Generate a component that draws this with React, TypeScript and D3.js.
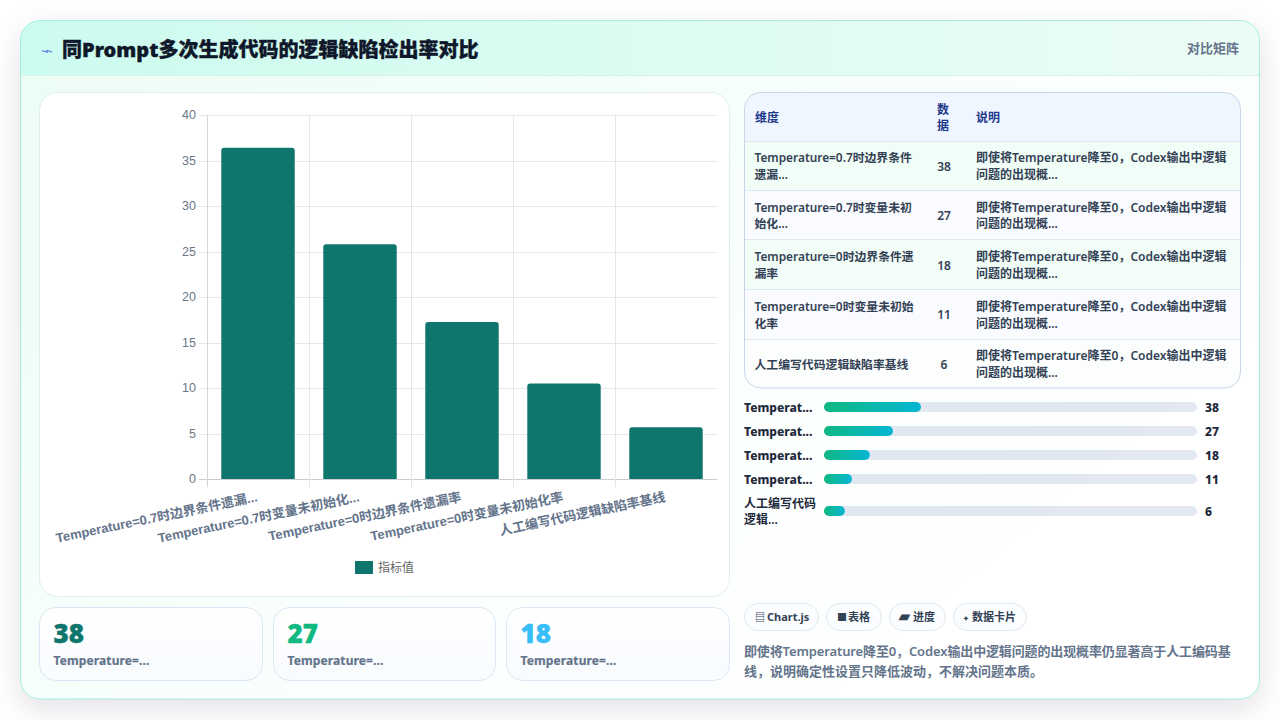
import { useEffect, useRef } from 'react'
import * as d3 from 'd3'

const categories = ['Temperature=0.7时边界条件遗漏...', 'Temperature=0.7时变量未初始化...', 'Temperature=0时边界条件遗漏率', 'Temperature=0时变量未初始化率', '人工编写代码逻辑缺陷率基线']
const barValues = [36.4, 25.8, 17.25, 10.5, 5.7]
const yTicks = [0, 5, 10, 15, 20, 25, 30, 35, 40]

const rowLabels = [['Temperature=0.7时边界条件', '遗漏...'], ['Temperature=0.7时变量未初', '始化...'], ['Temperature=0时边界条件遗', '漏率'], ['Temperature=0时变量未初始', '化率'], ['人工编写代码逻辑缺陷率基线']]
const rowValues = [38, 27, 18, 11, 6]
const rowNote = ['即使将Temperature降至0，Codex输出中逻辑', '问题的出现概...']

const progressLabels = [['Temperat...'], ['Temperat...'], ['Temperat...'], ['Temperat...'], ['人工编写代码', '逻辑...']]
const progressFill = [26, 18.5, 12.3, 7.5, 5.6]

const cardValues = ['38', '27', '18']
const cardColors = ['#0f766e', '#10b981', '#38bdf8']
const chipIcons = ['▤', '■', '▰', '✦']
const chipLabels = ['Chart.js', '表格', '进度', '数据卡片']
const chipEdges = [[744, 818], [826, 881], [889, 945], [953, 1026]]
const chipIconX = [755, 837, 899, 963]
const chipIconSize = [10, 10, 14, 7]
const chipTextX = [767, 848, 913, 972]
const summary = ['即使将Temperature降至0，Codex输出中逻辑问题的出现概率仍显著高于人工编码基', '线，说明确定性设置只降低波动，不解决问题本质。']

const sans = '"Noto Sans", "Noto Sans CJK SC", sans-serif'
const arial = '"Liberation Sans", "Noto Sans CJK SC", sans-serif'

const left = 207
const right = 717
const top = 115
const bottom = 479

function BarChart() {
  const ref = useRef<SVGGElement | null>(null)

  useEffect(() => {
    if (!ref.current) {return}
    const g = d3.select(ref.current)
    g.selectAll('*').remove()

    const x = d3.scaleBand<string>().domain(categories).range([left, right]).paddingInner(0.28).paddingOuter(0.14)
    const y = d3.scaleLinear().domain([0, 40]).range([bottom, top])

    // grid first, bars sit on top of it
    g.append('g').selectAll('line').data(yTicks).join('line')
      .attr('x1', left - 8).attr('x2', right)
      .attr('y1', (d) => Math.round(y(d)) + 0.5).attr('y2', (d) => Math.round(y(d)) + 0.5)
      .attr('stroke', (d) => (d === 0 ? '#c9ccd1' : '#e3e6ec'))

    const edges = categories.map((c) => (x(c) ?? 0) - x.step() * 0.14)
    g.append('g').selectAll('line').data(edges).join('line')
      .attr('x1', (d) => Math.round(d) + 0.5).attr('x2', (d) => Math.round(d) + 0.5)
      .attr('y1', top).attr('y2', bottom + 8)
      .attr('stroke', (_, i) => (i === 0 ? '#d3d6dc' : '#e3e6ec'))

    g.append('g').selectAll('path').data(categories).join('path')
      .attr('fill', '#0f766e')
      .attr('d', (d, i) => {
        const x0 = x(d) ?? 0
        const x1 = x0 + x.bandwidth()
        const y0 = y(barValues[i])
        const r = 3
        return `M${x0},${bottom}V${y0 + r}Q${x0},${y0} ${x0 + r},${y0}H${x1 - r}Q${x1},${y0} ${x1},${y0 + r}V${bottom}Z`
      })

    const yAxis = d3.axisLeft(y).tickValues(yTicks).tickSize(0).tickPadding(11)
    const ya = g.append('g').attr('transform', `translate(${left},0)`).call(yAxis)
    ya.select('.domain').remove()
    ya.selectAll('text').attr('font-family', arial).attr('font-size', 12.5).attr('fill', '#6b7686').attr('dy', '0.3em')

    g.append('g').selectAll('text').data(categories).join('text')
      .attr('text-anchor', 'end')
      .attr('font-family', arial)
      .attr('font-size', 13)
      .attr('font-weight', 700)
      .attr('fill', '#64748b')
      .attr('transform', (d) => `translate(${(x(d) ?? 0) + x.bandwidth() / 2},${bottom + 22}) rotate(-11.7)`)
      .text((d) => d)
  }, [])

  return <g ref={ref} />
}

export default function App() {
  const track = d3.scaleLinear().domain([0, 100]).range([0, 373])
  const rowY = [141, 190, 239.5, 289.5, 339, 388]
  const progressY = [407, 431, 455, 479, 511]
  const rowFills = ['#f1fdf7', '#f9fbfe', '#f2fdf8', '#f9fbfe', '#fbfefd']

  return (
    <svg width={1280} height={720} viewBox="0 0 1280 720" style={{ position: 'fixed', left: 0, top: 0, background: '#fff' }} fontFamily={sans}>
      <defs>
        <linearGradient id="head" x1="0" x2="1" y1="0" y2="0">
          <stop offset="0" stopColor="#ccfbef" />
          <stop offset="1" stopColor="#ecfdf5" />
        </linearGradient>
        <linearGradient id="body" x1="0" x2="1" y1="0" y2="0.6">
          <stop offset="0" stopColor="#ecfdf5" />
          <stop offset="0.6" stopColor="#fafffd" />
          <stop offset="1" stopColor="#ffffff" />
        </linearGradient>
        <linearGradient id="fill" x1="0" x2="1" y1="0" y2="0">
          <stop offset="0" stopColor="#10b981" />
          <stop offset="1" stopColor="#06b6d4" />
        </linearGradient>
        <linearGradient id="cardBg" x1="0" x2="0" y1="0" y2="1">
          <stop offset="0" stopColor="#ffffff" />
          <stop offset="1" stopColor="#f8fbff" />
        </linearGradient>
        <filter id="shadow" x="-10%" y="-10%" width="120%" height="125%">
          <feDropShadow dx="0" dy="10" stdDeviation="15" floodColor="#0f172a" floodOpacity="0.12" />
        </filter>
        <clipPath id="frame"><rect x={20.5} y={20.5} width={1239} height={678.5} rx={20} /></clipPath>
        <clipPath id="tableClip"><rect x={744.5} y={92.5} width={496} height={295.5} rx={16} /></clipPath>
      </defs>

      <rect x={20.5} y={20.5} width={1239} height={678.5} rx={20} fill="#fff" filter="url(#shadow)" />
      <g clipPath="url(#frame)">
        <rect x={20} y={76} width={1240} height={624} fill="url(#body)" />
        <rect x={20} y={20} width={1240} height={56} fill="url(#head)" />
        <line x1={20} x2={1260} y1={75.5} y2={75.5} stroke="#d5f0ee" />
      </g>
      <rect x={20.5} y={20.5} width={1239} height={678.5} rx={20} fill="none" stroke="#a9eee0" />

      <text transform="translate(41,54.5) scale(1,0.6)" fontSize={20} fill="#4f7fe0">⌁</text>
      <text x={62} y={57} fontSize={20} fontWeight={900} fill="#0f172a" stroke="#0f172a" strokeWidth={0.35}>同Prompt多次生成代码的逻辑缺陷检出率对比</text>
      <text x={1239} y={52.5} fontSize={13} fontWeight={600} textAnchor="end" fill="#64748b">对比矩阵</text>

      <rect x={39.5} y={92.5} width={690} height={504} rx={18} fill="#fff" stroke="#dff0ee" />
      <BarChart />
      <rect x={355} y={561} width={18} height={13} fill="#0f766e" />
      <text x={378} y={571.5} fontFamily={arial} fontSize={12} fill="#666">指标值</text>

      {cardValues.map((v, i) => {
        const xs = [39.5, 273.5, 506.5]
        const ws = [223, 222, 223]
        return (
          <g key={v}>
            <rect x={xs[i]} y={607.5} width={ws[i]} height={73} rx={16} fill="url(#cardBg)" stroke="#dbe7f5" />
            <text x={xs[i] + 14} y={643} fontSize={26} fontWeight={900} fill={cardColors[i]} stroke={cardColors[i]} strokeWidth={0.4}>{v}</text>
            <text x={xs[i] + 14} y={665} fontSize={12} fontWeight={700} fill="#64748b" stroke="#64748b" strokeWidth={0.2} letterSpacing={0.12}>Temperature=...</text>
          </g>
        )
      })}

      <g clipPath="url(#tableClip)">
        <rect x={744} y={92} width={497} height={49} fill="#eff6ff" />
        {rowValues.map((v, i) => (
          <rect key={i} x={744} y={rowY[i]} width={497} height={rowY[i + 1] - rowY[i]} fill={rowFills[i]} />
        ))}
      </g>
      {rowY.slice(0, 5).map((y) => <line key={y} x1={745} x2={1240} y1={Math.floor(y) + 0.5} y2={Math.floor(y) + 0.5} stroke="#dfe8f1" />)}
      <rect x={744.5} y={92.5} width={496} height={295.5} rx={16} fill="none" stroke="#c9d6e8" />

      <g fontSize={12} fontWeight={600} fill="#1e3a8a">
        <text x={755} y={122}>维度</text>
        <text x={937} y={114}>数</text>
        <text x={937} y={130}>据</text>
        <text x={976} y={122}>说明</text>
      </g>
      <g fontSize={12} fontWeight={600} fill="#334155">
        {rowValues.map((v, i) => {
          const cy = (rowY[i] + rowY[i + 1]) / 2
          const lines = rowLabels[i]
          return (
            <g key={i}>
              {lines.map((l, j) => (
                <text key={j} x={754.5} y={cy + 5 + (j - (lines.length - 1) / 2) * 16.5} fontSize={11.85}>{l}</text>
              ))}
              <text x={944} y={cy + 5} textAnchor="middle">{v}</text>
              {rowNote.map((l, j) => (
                <text key={j} x={976} y={cy + 5 + (j - 0.5) * 16.5}>{l}</text>
              ))}
            </g>
          )
        })}
      </g>

      {progressFill.map((p, i) => {
        const cy = progressY[i]
        const lines = progressLabels[i]
        return (
          <g key={i}>
            {lines.map((l, j) => (
              <text key={j} x={744} y={cy + 5 + (j - (lines.length - 1) / 2) * 16} fontSize={12} fontWeight={lines.length > 1 ? 600 : 800} fill="#1e293b">{l}</text>
            ))}
            <rect x={824} y={cy - 5} width={track(100)} height={10} rx={5} fill="#e2e8f0" />
            <rect x={824} y={cy - 5} width={track(p)} height={10} rx={5} fill="url(#fill)" />
            <text x={1205} y={cy + 5} fontSize={12} fontWeight={800} fill="#1e293b">{rowValues[i]}</text>
          </g>
        )
      })}

      {chipLabels.map((c, i) => {
        const [a, b] = chipEdges[i]
        return (
          <g key={c}>
            <rect x={a + 0.5} y={603.5} width={b - a} height={27} rx={13.5} fill="#fbfdff" stroke="#e2e8f0" />
            <text x={chipIconX[i]} y={621} fontSize={chipIconSize[i]} fontWeight={700} fill="#334155">{chipIcons[i]}</text>
            <text x={chipTextX[i]} y={621} fontSize={11} fontWeight={700} fill="#334155">{c}</text>
          </g>
        )
      })}

      {summary.map((l, i) => (
        <text key={i} x={744} y={656 + i * 20} fontSize={13} fontWeight={600} fill="#64748b" letterSpacing={i === 0 ? -0.13 : 0}>{l}</text>
      ))}
    </svg>
  )
}
